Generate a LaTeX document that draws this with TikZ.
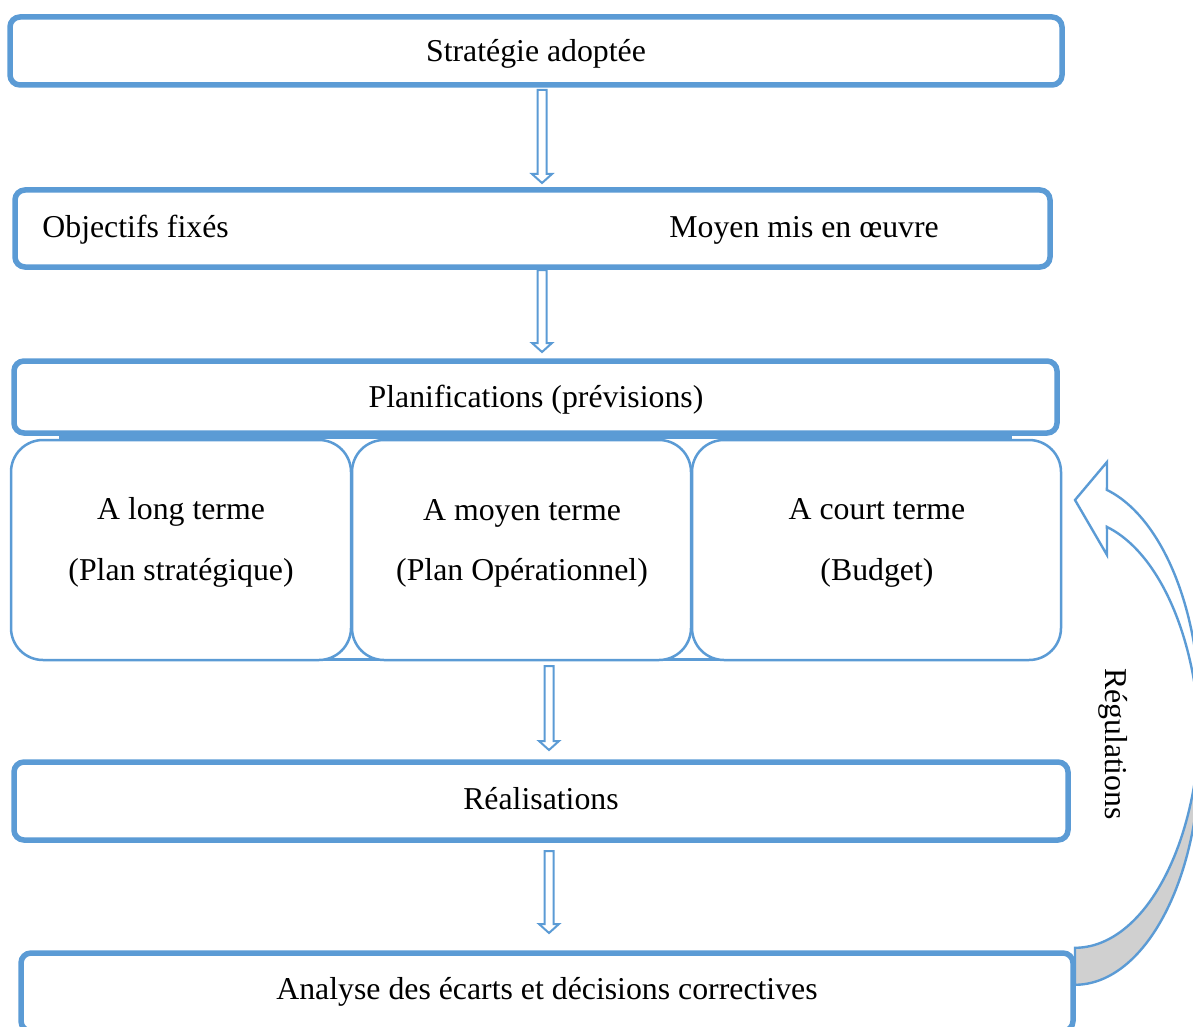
\documentclass[tikz,border=0pt]{standalone}
\usepackage{fontspec}
\setmainfont{Liberation Serif}
\usetikzlibrary{calc}
\definecolor{accent}{HTML}{5B9BD5}
\definecolor{backgray}{HTML}{D0D0D0}
\tikzset{
  bigbox/.style={draw=accent, line width=2.75pt, rounded corners=5pt, fill=white,
    inner sep=0pt, outer sep=0pt},
  termbox/.style={draw=accent, line width=1.25pt, rounded corners=16pt, fill=white,
    inner sep=0pt, outer sep=0pt},
  txt/.style={inner sep=0pt, font=\fontsize{15.9pt}{19pt}\selectfont},
  hollow/.style={draw=accent, line width=1pt, fill=white,
    to path={let \p1=(\tikztostart), \p2=(\tikztotarget) in
      (\x1-2.25pt,\y1) -- (\x1+2.25pt,\y1) -- (\x1+2.25pt,\y2+4.5pt)
      -- (\x1+5pt,\y2+4.5pt) -- (\x1,\y2) -- (\x1-5pt,\y2+4.5pt)
      -- (\x1-2.25pt,\y2+4.5pt) -- cycle}},
  curvearrow/.style={draw=accent, line width=1.2pt, line join=miter},
}
\begin{document}
\begin{tikzpicture}[x=0.5pt, y=-0.5pt]
\useasboundingbox (0,0) rectangle (1193,1027);
\clip (0,0) rectangle (1193,1027);

% boxes of the chain
\node[bigbox, minimum width=526pt, minimum height=34pt] (strat) at (536,51) {};
\node[bigbox, minimum width=517.5pt, minimum height=38.5pt] (obj) at (532.5,228.5) {};

% frame holding the three planning horizons (its sides stay hidden behind them)
\node[draw=accent, line width=1.5pt, inner sep=0pt, minimum width=475pt,
  minimum height=111pt] (grp) at (535,548) {};
\node[termbox, minimum width=170pt, minimum height=110pt] (long) at (181,550) {};
\node[termbox, minimum width=169.5pt, minimum height=110pt] (moyen) at (521.5,550) {};
\node[termbox, minimum width=184.5pt, minimum height=110pt] (court) at (876.5,550) {};

\node[bigbox, minimum width=521.5pt, minimum height=36pt] (plan) at (535.5,397) {};
\node[bigbox, minimum width=527pt, minimum height=39pt] (real) at (541,801) {};
\node[bigbox, minimum width=526pt, minimum height=39pt] (ana) at (547,992) {};

% texts
\node[txt, anchor=base] (tstrat) at (536,62) {Stratégie adoptée};
\node[txt, anchor=base west] (tobj) at (42,237) {Objectifs fixés};
\node[txt, anchor=base west] (tmoy) at (669,237) {Moyen mis en œuvre};
\node[txt, anchor=base] (tplan) at (536,407) {Planifications (prévisions)};
\node[txt, anchor=base] (tl1) at (181,519) {A long terme};
\node[txt, anchor=base] (tl2) at (181,580) {(Plan stratégique)};
\node[txt, anchor=base] (tm1) at (522,520) {A moyen terme};
\node[txt, anchor=base] (tm2) at (522,580) {(Plan Opérationnel)};
\node[txt, anchor=base] (tc1) at (877,519) {A court terme};
\node[txt, anchor=base] (tc2) at (877,580) {(Budget)};
\node[txt, anchor=base] (treal) at (541,809) {Réalisations};
\node[txt, anchor=base] (tana) at (547,999) {Analyse des écarts et décisions correctives};
\node[txt, rotate=-90] (treg) at (1113,744) {Régulations};

% hollow arrows between the stages
\draw[hollow] ([xshift=3pt,yshift=-2.5pt]strat.south) to ([yshift=3.5pt]obj.north);
\draw[hollow] ([xshift=4.75pt,yshift=-1.5pt]obj.south) to ([yshift=4.5pt]plan.north);
\draw[hollow] ([xshift=13.75pt,yshift=-3pt]moyen.south) to ([yshift=6pt]real.north);
\draw[hollow] ([xshift=4pt,yshift=-5.5pt]real.south) to ([yshift=10pt]ana.north);

% curved feedback arrow: back face (shaded) and front face with head
\draw[curvearrow, fill=backgray]
  plot[variable=\t, domain=4.56:90, samples=50] ({1075+125*cos(\t)}, {715+232.8*sin(\t)})
  -- plot[variable=\t, domain=90:-4.56, samples=50] ({1075+125*cos(\t)}, {752+232.8*sin(\t)})
  -- cycle;
\draw[curvearrow, fill=white]
  plot[variable=\t, domain=-75.2:4.56, samples=50] ({1075+125*cos(\t)}, {715+232.8*sin(\t)})
  -- plot[variable=\t, domain=-4.56:-75.2, samples=50] ({1075+125*cos(\t)}, {752+232.8*sin(\t)})
  -- (1107,555) -- (1075,500) -- (1107,462) -- cycle;
\end{tikzpicture}
\end{document}
